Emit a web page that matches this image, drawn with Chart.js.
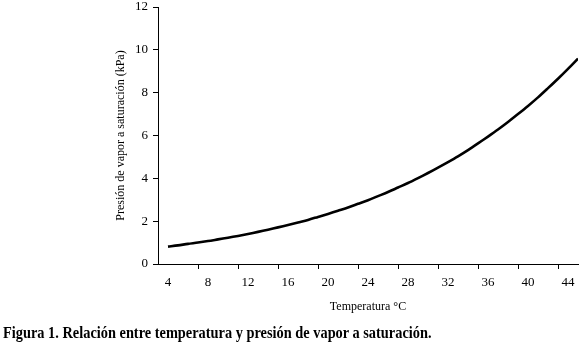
<!DOCTYPE html>
<html>
<head>
<meta charset="utf-8">
<script src="https://cdn.jsdelivr.net/npm/chart.js@4/dist/chart.umd.min.js"></script>
<style>
  html, body { margin: 0; padding: 0; background: #fff; }
  #wrap { position: relative; width: 583px; height: 347px; }
  #c { position: absolute; left: 0; top: 0; }
  #caption { position: absolute; left: 3px; top: 324px; font-family: "Liberation Serif", "Times New Roman", serif; font-weight: bold; font-size: 17px; line-height: 17px; color: #000; white-space: nowrap; transform: scaleX(0.845); transform-origin: 0 0; }
</style>
</head>
<body>
<div id="wrap">
  <canvas id="c" width="583" height="347"></canvas>
  <div id="caption">Figura 1. Relación entre temperatura y presión de vapor a saturación.</div>
</div>
<script>
// Temperature (°C)
const temperatures = [4,5,6,7,8,9,10,11,12,13,14,15,16,17,18,19,20,21,22,23,24,25,26,27,28,29,30,31,32,33,34,35,36,37,38,39,40,41,42,43,44,45];
// Saturation vapour pressure (kPa)
const pressures = [0.81,0.87,0.94,1.00,1.07,1.15,1.23,1.31,1.40,1.50,1.60,1.71,1.82,1.94,2.06,2.20,2.34,2.49,2.64,2.81,2.98,3.17,3.36,3.57,3.78,4.01,4.25,4.50,4.76,5.03,5.32,5.63,5.95,6.28,6.63,7.00,7.38,7.78,8.21,8.65,9.11,9.59];
// Axis tick labels
const xLabelTicks = [4,8,12,16,20,24,28,32,36,40,44];
const xMarkTicks = [7,11,15,19,23,27,31,35,39,43];
const yTicks = [0,2,4,6,8,10,12];

const FONT = "'Liberation Serif', 'Times New Roman', serif";
const labelSet = new Set(xLabelTicks);
const markSet = new Set(xMarkTicks);

new Chart(document.getElementById('c'), {
  type: 'line',
  data: {
    datasets: [{
      data: temperatures.map((t, i) => ({ x: t, y: pressures[i] })),
      borderColor: '#000',
      borderWidth: 2.6,
      pointRadius: 0,
      tension: 0.3,
      fill: false
    }]
  },
  options: {
    responsive: false,
    animation: false,
    layout: { padding: { left: 0, right: 5, top: 7, bottom: 30 } },
    plugins: { legend: { display: false }, tooltip: { enabled: false } },
    scales: {
      x: {
        type: 'linear',
        min: 3, max: 45,
        afterFit: s => { s.height = 53; s.paddingLeft = 0; s.paddingRight = 0; },
        afterBuildTicks: s => {
          s.ticks = [...xLabelTicks, ...xMarkTicks].sort((a, b) => a - b).map(v => ({ value: v }));
        },
        ticks: {
          autoSkip: false, maxRotation: 0, padding: 6,
          color: '#000',
          font: { family: FONT, size: 13 },
          callback: v => labelSet.has(v) ? String(v) : ''
        },
        grid: {
          drawOnChartArea: false, drawTicks: true, tickLength: 5,
          color: ctx => (ctx.tick && markSet.has(ctx.tick.value)) ? '#000' : 'rgba(0,0,0,0)'
        },
        border: { display: true, color: '#000', width: 1 },
        title: {
          display: true, text: 'Temperatura °C', color: '#000',
          font: { family: FONT, size: 12 },
          padding: { top: 0, bottom: 3 }
        }
      },
      y: {
        min: 0, max: 12,
        afterFit: s => { s.width = 158; s.paddingTop = 0; s.paddingBottom = 0; },
        afterBuildTicks: s => { s.ticks = yTicks.map(v => ({ value: v })); },
        ticks: { color: '#000', padding: 5, font: { family: FONT, size: 13 } },
        grid: { drawOnChartArea: false, drawTicks: true, tickLength: 5, color: '#000' },
        border: { display: true, color: '#000', width: 1 },
        title: {
          display: true, text: 'Presión de vapor a saturación (kPa)', color: '#000',
          font: { family: FONT, size: 12 },
          padding: { top: 114, bottom: 0 }
        }
      }
    }
  }
});
</script>
</body>
</html>
